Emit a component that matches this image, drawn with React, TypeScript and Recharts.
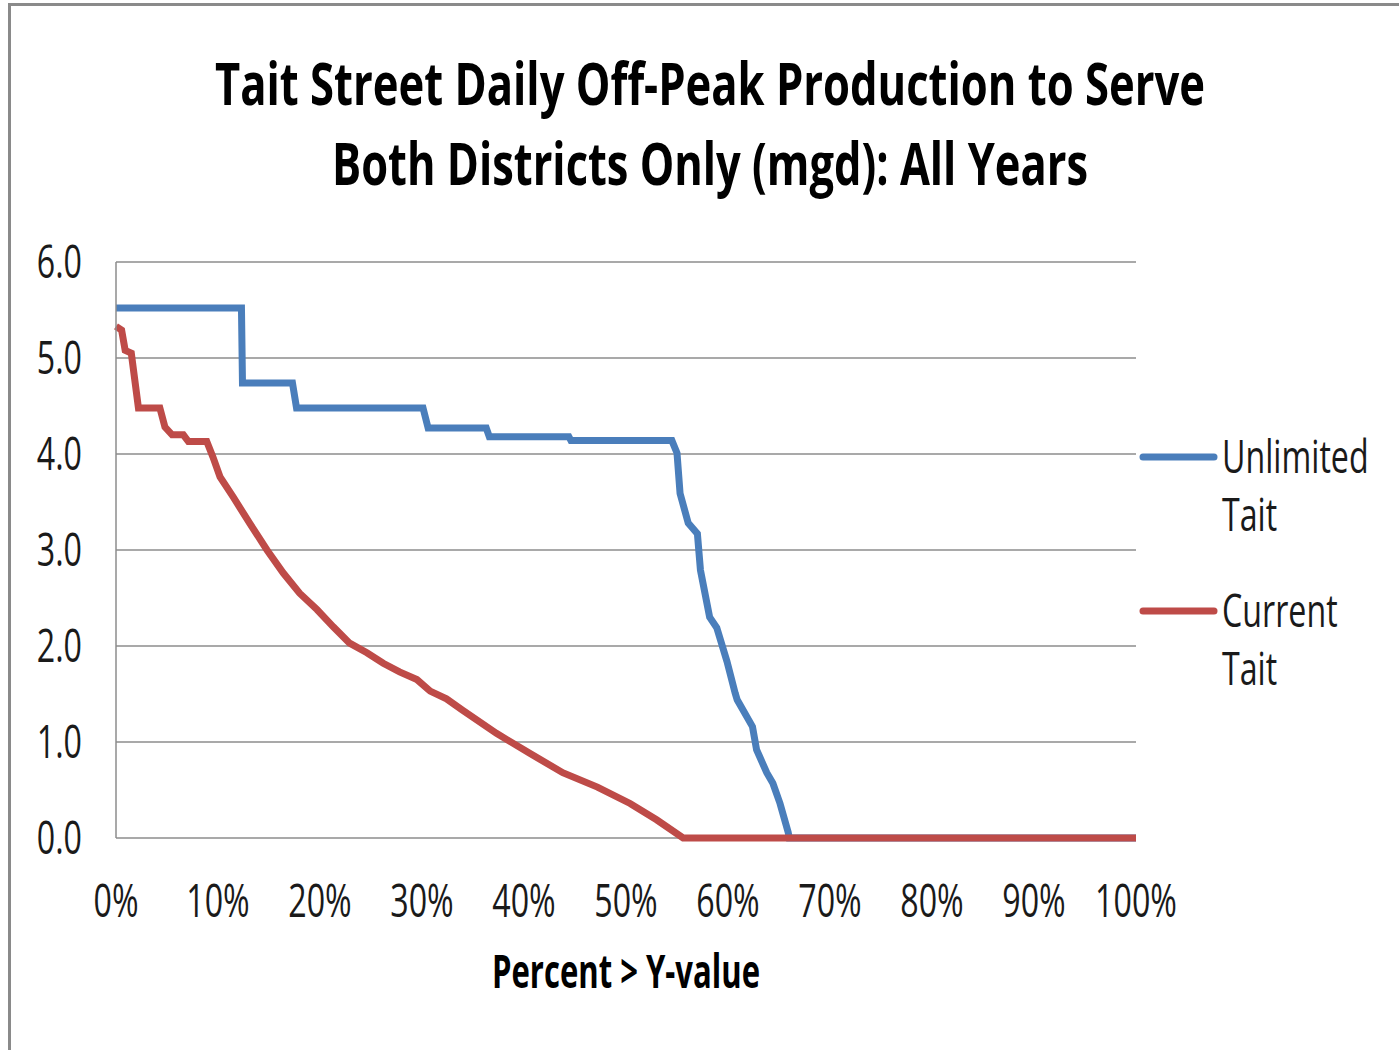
import React from 'react';
import { LineChart, Line, XAxis, YAxis, CartesianGrid } from 'recharts';

// percent of days (x) vs production in mgd (y)
const unlimitedTait = [
  { x: 0, y: 5.52 }, { x: 12.3, y: 5.52 }, { x: 12.4, y: 4.74 }, { x: 17.3, y: 4.74 },
  { x: 17.7, y: 4.48 }, { x: 30.1, y: 4.48 }, { x: 30.6, y: 4.27 }, { x: 36.3, y: 4.27 },
  { x: 36.6, y: 4.18 }, { x: 44.4, y: 4.18 }, { x: 44.6, y: 4.14 }, { x: 54.5, y: 4.14 },
  { x: 55.0, y: 4.01 }, { x: 55.3, y: 3.59 }, { x: 56.1, y: 3.28 }, { x: 57.0, y: 3.17 },
  { x: 57.3, y: 2.79 }, { x: 58.2, y: 2.3 }, { x: 58.9, y: 2.19 }, { x: 59.9, y: 1.84 },
  { x: 60.7, y: 1.51 }, { x: 60.9, y: 1.44 }, { x: 62.4, y: 1.16 }, { x: 62.8, y: 0.92 },
  { x: 63.8, y: 0.68 }, { x: 64.4, y: 0.57 }, { x: 65.1, y: 0.36 }, { x: 65.9, y: 0.06 },
  { x: 66.0, y: 0 }, { x: 100, y: 0 },
];

const currentTait = [
  { x: 0, y: 5.33 }, { x: 0.55, y: 5.29 }, { x: 0.9, y: 5.08 }, { x: 1.5, y: 5.05 },
  { x: 2.2, y: 4.48 }, { x: 4.3, y: 4.48 }, { x: 4.8, y: 4.28 }, { x: 5.5, y: 4.2 },
  { x: 6.6, y: 4.2 }, { x: 7.1, y: 4.13 }, { x: 8.9, y: 4.13 }, { x: 9.5, y: 3.97 },
  { x: 10.2, y: 3.76 }, { x: 11.5, y: 3.55 }, { x: 13.1, y: 3.28 }, { x: 14.8, y: 3.0 },
  { x: 16.4, y: 2.76 }, { x: 18.0, y: 2.55 }, { x: 19.7, y: 2.38 }, { x: 21.3, y: 2.2 },
  { x: 22.9, y: 2.03 }, { x: 24.6, y: 1.93 }, { x: 26.2, y: 1.82 }, { x: 27.8, y: 1.73 },
  { x: 29.5, y: 1.65 }, { x: 30.8, y: 1.53 }, { x: 32.4, y: 1.45 }, { x: 34.0, y: 1.33 },
  { x: 37.3, y: 1.09 }, { x: 40.6, y: 0.88 }, { x: 43.8, y: 0.68 }, { x: 47.2, y: 0.53 },
  { x: 50.4, y: 0.36 }, { x: 53.0, y: 0.19 }, { x: 55.6, y: 0 }, { x: 100, y: 0 },
];

const xTicks = [0, 10, 20, 30, 40, 50, 60, 70, 80, 90, 100];
const yTicks = [0, 1, 2, 3, 4, 5, 6];
const titleLines = ['Tait Street Daily Off-Peak Production to Serve', 'Both Districts Only (mgd): All Years'];
const legendItems = [
  { lines: ['Unlimited', 'Tait'], color: '#4a7ebb' },
  { lines: ['Current', 'Tait'], color: '#be4b48' },
];

const FONT = '"Open Sans", sans-serif';
const GRID = '#8c8c8c';
const INK = '#1a1a1a';

const XTick = (props: any) => {
  const { x, y, payload } = props;
  return (
    <g transform={`translate(${x},${y + 79}) scale(0.7,1)`}>
      <text x={0} y={0} textAnchor="middle" fontFamily={FONT} fontSize={46} fill={INK}>
        {`${payload.value}%`}
      </text>
    </g>
  );
};

const YTick = (props: any) => {
  const { x, y, payload } = props;
  return (
    <g transform={`translate(${x - 34},${y + 16}) scale(0.7,1)`}>
      <text x={0} y={0} textAnchor="end" fontFamily={FONT} fontSize={46} fill={INK}>
        {Number(payload.value).toFixed(1)}
      </text>
    </g>
  );
};

// squeezed bold text: scale horizontally, then fit to the measured width
const Squeezed = ({ x, y, width, size, children }: any) => (
  <g transform={`translate(${x},${y}) scale(0.65,1)`}>
    <text
      x={0}
      y={0}
      textLength={width / 0.65}
      lengthAdjust="spacingAndGlyphs"
      fontFamily={FONT}
      fontWeight={700}
      fontSize={size}
      fill="#000"
    >
      {children}
    </text>
  </g>
);

export default function App() {
  return (
    <div style={{ position: 'absolute', left: 0, top: 0, width: 1399, height: 1050, overflow: 'hidden', background: '#fff' }}>
      {/* slide frame */}
      <div
        style={{
          position: 'absolute',
          left: 8,
          top: 3,
          width: 1420,
          height: 1080,
          borderLeft: '3px solid #8a8a8a',
          borderTop: '3px solid #8a8a8a',
        }}
      />
      <LineChart
        width={1399}
        height={1050}
        margin={{ top: 262, right: 263, left: 56, bottom: 152 }}
        style={{ position: 'absolute', left: 0, top: 0 }}
      >
        <CartesianGrid vertical={false} stroke={GRID} strokeWidth={1.5} />
        <XAxis
          type="number"
          dataKey="x"
          domain={[0, 100]}
          ticks={xTicks}
          interval={0}
          height={60}
          tickLine={false}
          tickSize={0}
          tickMargin={0}
          axisLine={false}
          tick={<XTick />}
        />
        <YAxis
          type="number"
          domain={[0, 6]}
          ticks={yTicks}
          interval={0}
          width={60}
          tickLine={false}
          tickSize={0}
          tickMargin={0}
          axisLine={{ stroke: GRID, strokeWidth: 1.5 }}
          tick={<YTick />}
        />
        <Line
          data={unlimitedTait}
          dataKey="y"
          type="linear"
          stroke="#4a7ebb"
          strokeWidth={7}
          dot={false}
          isAnimationActive={false}
        />
        <Line
          data={currentTait}
          dataKey="y"
          type="linear"
          stroke="#be4b48"
          strokeWidth={7}
          dot={false}
          isAnimationActive={false}
        />
      </LineChart>
      {/* title, axis title and legend */}
      <svg width={1399} height={1050} style={{ position: 'absolute', left: 0, top: 0, pointerEvents: 'none' }}>
        <Squeezed x={215} y={105} width={990} size={60}>
          {titleLines[0]}
        </Squeezed>
        <Squeezed x={332} y={185} width={756} size={60}>
          {titleLines[1]}
        </Squeezed>
        <Squeezed x={492} y={988} width={268} size={46}>
          Percent &gt; Y-value
        </Squeezed>
        {legendItems.map((item, i) => {
          const top = 457 + i * 154;
          return (
            <g key={item.lines[0]}>
              <line x1={1143} x2={1214} y1={top} y2={top} stroke={item.color} strokeWidth={7} strokeLinecap="round" />
              {item.lines.map((t, j) => (
                <g key={t + j} transform={`translate(1222,${top + 16 + j * 58}) scale(0.7,1)`}>
                  <text x={0} y={0} fontFamily={FONT} fontSize={46} fill={INK}>
                    {t}
                  </text>
                </g>
              ))}
            </g>
          );
        })}
      </svg>
    </div>
  );
}
